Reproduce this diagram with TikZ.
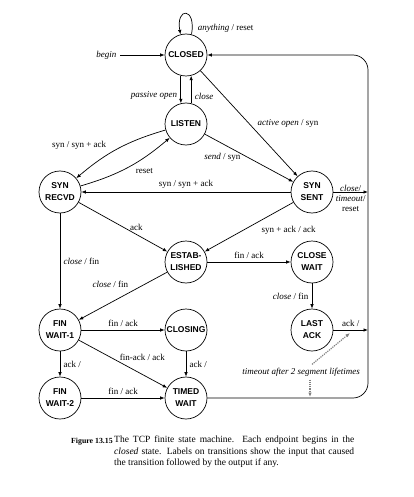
\documentclass[tikz,border=0pt]{standalone}
\usepackage{fontspec}
\setmainfont{Liberation Serif}
\setsansfont{Liberation Sans}
\usepackage{tikz}
\usetikzlibrary{arrows.meta}

\begin{document}
\begin{tikzpicture}[x=1pt, y=-1pt, node distance=68pt, every node/.style={font=\fontsize{9}{10}\selectfont}]
% Styles
\tikzstyle{state} = [circle, minimum size=42pt, inner sep=0pt, draw=black, line width=0.7pt, align=center, font=\sffamily\bfseries\fontsize{8.5}{12}\selectfont]
\tikzstyle{arrow} = [line width=0.7pt, -{Latex[length=4.5pt, width=3.5pt]}]
\tikzstyle{timer} = [line width=1.2pt, densely dotted, gray, -{Latex[length=4.5pt, width=3.5pt]}]

\useasboundingbox (0,0) rectangle (414,497);

% Nodes
\node (closed) [state] at (186,55) {CLOSED};
\node (listen) [state, below of=closed, yshift=-1pt] {LISTEN};
\node (syn_recvd) [state, below of=listen, xshift=-126pt] {SYN\\RECVD};
\node (syn_sent) [state, below of=listen, xshift=126pt] {SYN\\SENT};
\node (established) [state, below of=syn_recvd, xshift=126pt, yshift=-2pt] {ESTAB-\\LISHED};
\node (close_wait) [state, below of=syn_sent, yshift=-2pt] {CLOSE\\WAIT};
\node (fin_wait1) [state, below of=established, xshift=-126pt] {FIN\\WAIT-1};
\node (closing) [state, below of=established] {CLOSING};
\node (last_ack) [state, below of=close_wait] {LAST\\ACK};
\node (fin_wait2) [state, below of=fin_wait1] {FIN\\WAIT-2};
\node (timed_wait) [state, below of=closing] {TIMED\\WAIT};
\node (timeout) at (301,372) {\textit{timeout after 2 segment lifetimes}};

% Free ends
\coordinate[left of=closed, xshift=2pt] (b1);
\coordinate[right of=closed, xshift=114pt] (r1);
\coordinate[right of=timed_wait, xshift=114pt] (r2);
\coordinate[right of=syn_sent, xshift=-12pt] (r3);
\coordinate[right of=last_ack, xshift=-12pt] (r4);
\coordinate (t1) at (350,333);
\coordinate (t2) at (310,397);

% Arrows
\draw [arrow] (closed.75) .. controls +(80:28pt) and +(100:28pt) .. (closed.105) node[pos=0.08, right, xshift=2pt] {\textit{anything} / reset};
\draw [arrow] (b1) node[left] {\textit{begin}} -- (closed);
\draw [arrow] (closed.256) -- node[left, pos=0.7] {\textit{passive open}} (listen.104);
\draw [arrow] (listen.76) -- node[right, pos=0.25] {\textit{close}} (closed.284);
\draw [arrow] (closed) -- node[right=5pt] {\textit{active open} / syn} (syn_sent);
\draw [arrow] (listen) -- node[below, pos=0.2, yshift=-6pt] {\textit{send} / syn} (syn_sent);
\draw [arrow] (listen) to[bend right=12] node[above left, pos=0.6] {syn / syn + ack} (syn_recvd);
\draw [arrow] (syn_recvd) to[bend right=12] node[below right, pos=0.55] {reset} (listen);
\draw [arrow] (syn_sent) -- node[above] {syn / syn + ack} (syn_recvd);
\draw [arrow] (syn_recvd) -- node[above, pos=0.65] {ack} (established);
\draw [arrow] (syn_sent) -- node[below right, pos=0.4] {syn + ack / ack} (established);
\draw [arrow] (syn_sent) -- node[align=center, yshift=-6pt, inner sep=0pt] {\textit{close}/\\\textit{timeout}/\\reset} (r3);
\draw [arrow] (established) -- node[above] {fin / ack} (close_wait);
\draw [arrow] (close_wait) -- node[left] {\textit{close} / fin} (last_ack);
\draw [arrow] (last_ack) -- node[above] {ack /} (r4);
\draw [arrow] (established) -- node[above left, pos=0.4] {\textit{close} / fin} (fin_wait1);
\draw [arrow] (syn_recvd) -- node[right] {\textit{close} / fin} (fin_wait1);
\draw [arrow] (fin_wait1) -- node[above] {fin / ack} (closing);
\draw [arrow] (fin_wait1) -- node[above right, pos=0.45, inner sep=1pt] {fin-ack / ack} (timed_wait);
\draw [arrow] (fin_wait1) -- node[right] {ack /} (fin_wait2);
\draw [arrow] (closing) -- node[right] {ack /} (timed_wait);
\draw [arrow] (fin_wait2) -- node[above] {fin / ack} (timed_wait);
\draw [arrow, rounded corners=15pt] (timed_wait) -- (r2) -- (r1) -- (closed);
\draw [timer] ([xshift=11pt]timeout.north) -- (t1);
\draw [timer] ([xshift=9pt]timeout.south) -- (t2);

% Caption
\node (fig) [anchor=base west, inner sep=0pt, font=\bfseries\fontsize{7.8}{11.5}\selectfont] at (71,443) {Figure 13.15};
\node (caption) [anchor=north west, text width=240pt, align=justify, inner sep=0pt, font=\fontsize{9.5}{11.5}\selectfont] at (114,436) {The TCP finite state machine. Each endpoint begins in the\linebreak \textit{closed} state. Labels on transitions show the input that caused\linebreak the transition followed by the output if any.};
\end{tikzpicture}
\end{document}
